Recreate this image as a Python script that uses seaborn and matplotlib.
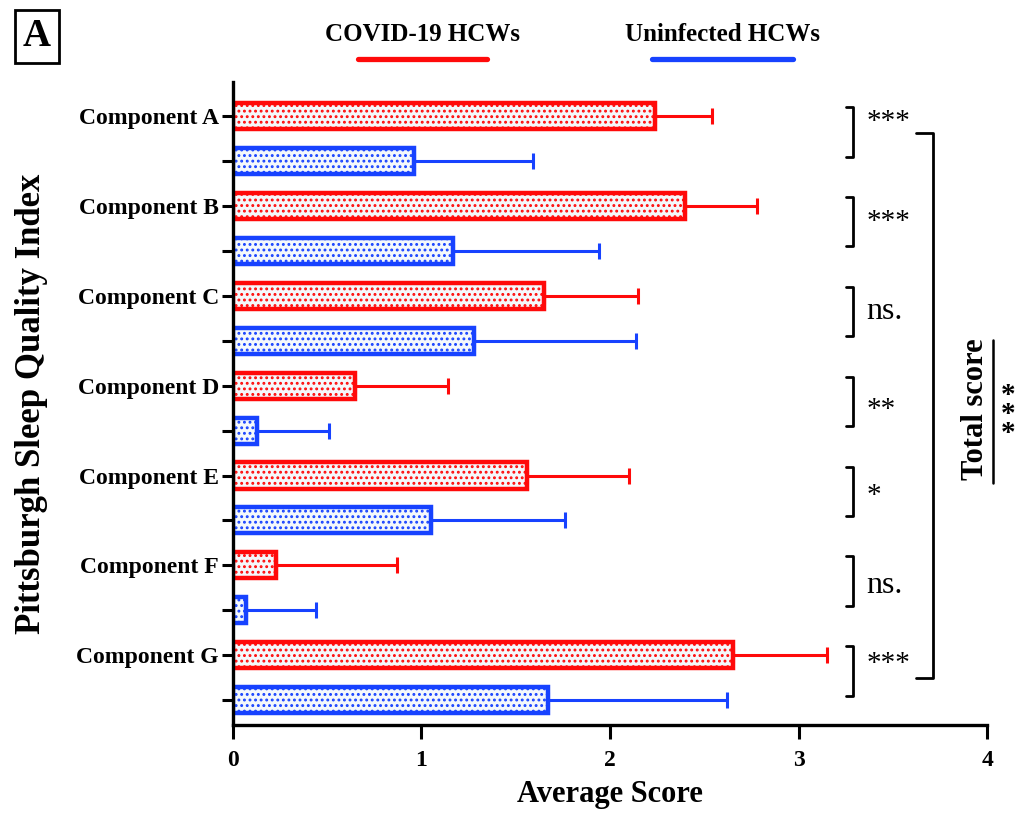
import seaborn as sns
import matplotlib.pyplot as plt
import pandas as pd
from matplotlib.colors import to_hex
from matplotlib.lines import Line2D

components = ["Component A", "Component B", "Component C", "Component D",
              "Component E", "Component F", "Component G"]
covid_mean = [2.24, 2.40, 1.65, 0.65, 1.56, 0.23, 2.65]
covid_sd = [0.30, 0.38, 0.50, 0.49, 0.54, 0.64, 0.50]
uninf_mean = [0.96, 1.17, 1.28, 0.13, 1.05, 0.07, 1.67]
uninf_sd = [0.63, 0.77, 0.86, 0.38, 0.71, 0.37, 0.95]
signif = ["***", "***", "ns.", "**", "*", "ns.", "***"]
groups = ["COVID-19 HCWs", "Uninfected HCWs"]

RED = "#ff0a0a"
BLUE = "#1742ff"
colors = {groups[0]: RED, groups[1]: BLUE}

rows = []
for i, c in enumerate(components):
    rows.append({"row": f"{i}a", "score": covid_mean[i], "sd": covid_sd[i], "group": groups[0]})
    rows.append({"row": f"{i}b", "score": uninf_mean[i], "sd": uninf_sd[i], "group": groups[1]})
df = pd.DataFrame(rows)

sns.set_style("ticks")
plt.rcParams["font.family"] = ["Liberation Serif", "DejaVu Serif"]
plt.rcParams["hatch.linewidth"] = 1.3
plt.rcParams["text.color"] = "black"
plt.rcParams["axes.labelcolor"] = "black"
plt.rcParams["xtick.color"] = "black"
plt.rcParams["ytick.color"] = "black"
plt.rcParams["axes.edgecolor"] = "black"

fig = plt.figure(figsize=(10.21, 8.13), dpi=100)
ax = fig.add_axes([0.228, 0.108, 0.739, 0.791])

sns.barplot(data=df, x="score", y="row", hue="group", palette=colors, dodge=False,
            saturation=1, errorbar=None, width=0.58, linewidth=3, legend=False, ax=ax)

# style bars: light face, edge + dotted hatch in the bar's own colour
for p in ax.patches:
    col = to_hex(p.get_facecolor())
    p.set_edgecolor(col)
    p.set_facecolor("#f4f8fb")
    p.set_hatch("...")
    p.set_linewidth(3.2)

for i, r in enumerate(df.itertuples()):
    ax.errorbar(r.score, i, xerr=[[0], [r.sd]], fmt="none", ecolor=colors[r.group],
                elinewidth=2.2, capsize=6, capthick=2.2, zorder=1)

ax.set_xlim(0, 4)
ax.set_ylim(13.56, -0.76)
ax.set_xticks([0, 1, 2, 3, 4])
labels = []
for c in components:
    labels += [c, ""]
ax.set_yticks(range(len(labels)))
ax.set_yticklabels(labels, fontsize=17, fontweight="bold")
ax.set_xticklabels(["0", "1", "2", "3", "4"], fontsize=17, fontweight="bold")
ax.tick_params(axis="y", length=8, width=2.2, pad=2)
ax.tick_params(axis="x", length=10, width=2.2, pad=8)
for s in ["left", "bottom"]:
    ax.spines[s].set_linewidth(2.4)
sns.despine(ax=ax)

ax.set_xlabel("Average Score", fontsize=22, fontweight="bold", labelpad=6)
ax.set_ylabel("Pittsburgh Sleep Quality Index", fontsize=25, fontweight="bold")
ax.yaxis.set_label_coords(-0.245, 0.5)

# significance brackets
text_y = [0.13, 0.35, 0.35, 0.55, 0.45, 0.45, 0.2]
for i, s in enumerate(signif):
    y0, y1 = 2 * i - 0.2, 2 * i + 0.9
    ax.plot([3.25, 3.29, 3.29, 3.25], [y0, y0, y1, y1], color="black", lw=2, clip_on=False)
    ax.text(3.36, 2 * i + text_y[i], s, fontsize=21 if "*" in s else 23,
            va="center", ha="left")

ax.plot([3.62, 3.71, 3.71, 3.62], [0.38, 0.38, 12.5, 12.5], color="black", lw=2, clip_on=False)

# total score annotation (rotated), with the three stars stacked below the rule
fig.text(0.955, 0.497, "Total score", rotation=90, fontsize=22, fontweight="bold",
         ha="center", va="center")
fig.add_artist(Line2D([0.973, 0.973], [0.406, 0.582], color="black", lw=1.8))
fig.text(0.9875, 0.49, "*\n*\n*", fontsize=21, fontweight="bold", ha="center",
         va="center", linespacing=0.62)

# custom legend at the top
fig.text(0.414, 0.958, groups[0], fontsize=18, fontweight="bold", ha="center", va="center")
fig.add_artist(Line2D([0.351, 0.477], [0.928, 0.928], color=RED, lw=3.8))
fig.text(0.708, 0.958, groups[1], fontsize=18, fontweight="bold", ha="center", va="center")
fig.add_artist(Line2D([0.639, 0.777], [0.928, 0.928], color=BLUE, lw=3.8))

# panel letter
fig.text(0.036, 0.955, "A", fontsize=28, fontweight="bold", ha="center", va="center",
         bbox=dict(boxstyle="square,pad=0.2", fc="white", ec="black", lw=2))

fig.savefig("out.png", dpi=100)
